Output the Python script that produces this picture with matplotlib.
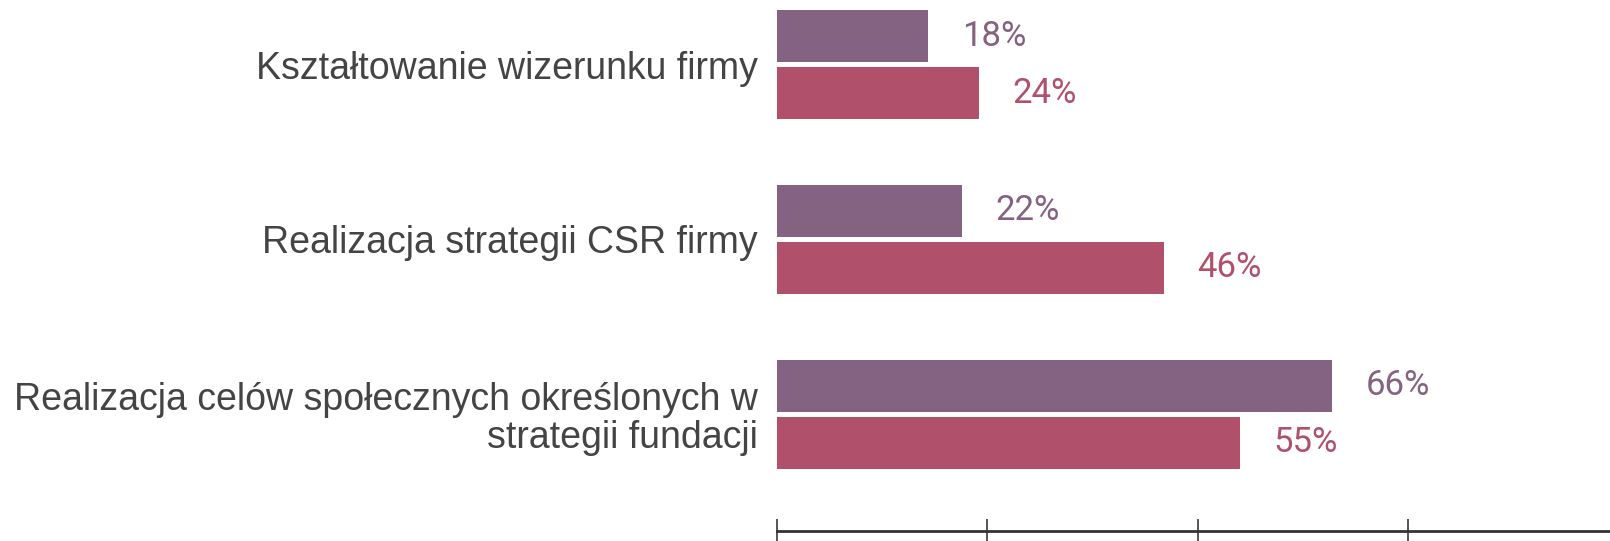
import numpy as np
import matplotlib.pyplot as plt

categories = ['Kształtowanie wizerunku firmy',
              'Realizacja strategii CSR firmy',
              'Realizacja celów społecznych określonych w\nstrategii fundacji']
series_a = [18, 22, 66]
series_b = [24, 46, 55]
ticks = [0, 25, 50, 75, 100]

purple = '#846282'
pink = '#b0506b'

fig = plt.figure(figsize=(16.1, 5.41), dpi=100)
ax = fig.add_axes([777 / 1610, 10 / 541, 841 / 1610, 531 / 541])

y = np.arange(len(categories))
h = 0.297
off = 0.163
ax.barh(y - off, series_a, h, color=purple)
ax.barh(y + off, series_b, h, color=pink)

for yi, va, vb in zip(y, series_a, series_b):
    ax.text(va + 4.0, yi - off, f'{va}%', color=purple, va='center', ha='left',
            fontsize=25, family='Roboto')
    ax.text(vb + 4.0, yi + off, f'{vb}%', color=pink, va='center', ha='left',
            fontsize=25, family='Roboto')

ax.set_yticks(y)
ax.set_yticklabels(categories, fontsize=27, family='Liberation Sans', color='#444444',
                   ha='right', linespacing=1.05)
ax.tick_params(axis='y', length=0, pad=14)

ax.set_xlim(0, 100)
ax.set_ylim(2.669, -0.37)
ax.set_xticks(ticks)
ax.set_xticks(ticks, minor=True)
ax.xaxis.remove_overlapping_locs = False
ax.set_xticklabels([])
ax.tick_params(axis='x', which='major', direction='out', length=8, width=1.4, color='#555555')
ax.tick_params(axis='x', which='minor', direction='in', length=8.5, width=1.4, color='#555555')

for s in ['top', 'right', 'left']:
    ax.spines[s].set_visible(False)
ax.spines['bottom'].set_color('#333333')
ax.spines['bottom'].set_linewidth(2)

fig.savefig('out.png', dpi=100)
